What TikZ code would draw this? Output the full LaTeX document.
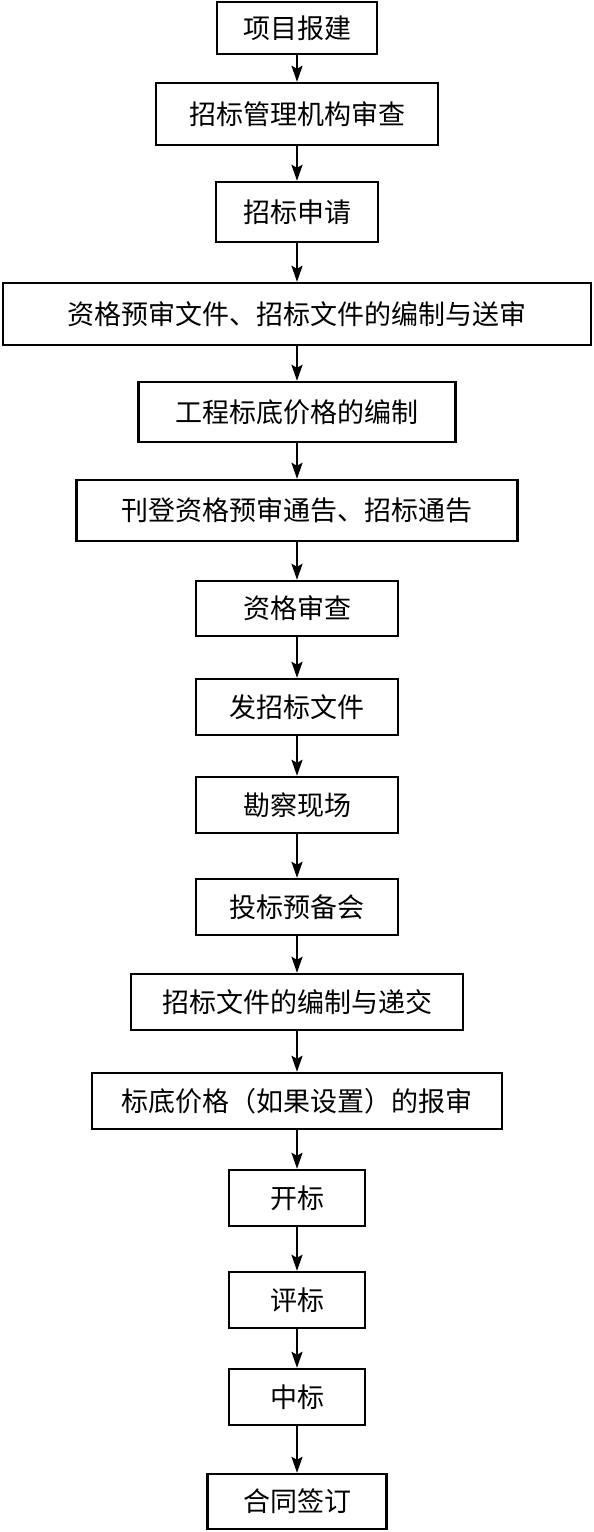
\documentclass[tikz,border=0pt]{standalone}
\usepackage{fontspec}
\setmainfont{Noto Sans CJK SC}
\usetikzlibrary{arrows.meta}

\begin{document}
\begin{tikzpicture}[x=1pt, y=-1pt,
  stepbox/.style = {draw, line width=2.4pt, inner sep=0pt, font=\fontsize{27}{31}\selectfont},
  flow/.style = {line width=2.4pt, -{Stealth[length=16pt,width=11pt,inset=3pt]}}
]
  \useasboundingbox (0,0) rectangle (594,1532);

  % process steps, top to bottom
  \foreach \i/\y/\w/\h/\txt in {
    1/28/160/52/项目报建,
    2/114/282/62/招标管理机构审查,
    3/212/162/60/招标申请,
    4/314/588/62/资格预审文件、招标文件的编制与送审,
    5/412/317/60/工程标底价格的编制,
    6/510.5/441/61/刊登资格预审通告、招标通告,
    7/608.5/202/55/资格审查,
    8/707/202/56/发招标文件,
    9/805/202/56/勘察现场,
    10/907/202/56/投标预备会,
    11/1002/332/56/招标文件的编制与递交,
    12/1101/410/56/标底价格（如果设置）的报审,
    13/1198/136/56/开标,
    14/1300/136/56/评标,
    15/1397/136/56/中标,
    16/1501.5/179/55/合同签订
  }{
    \node[stepbox, minimum width=\w pt, minimum height=\h pt] (s\i) at (297,\y) {\txt};
  }

  % connectors
  \foreach \i [evaluate=\i as \j using int(\i+1)] in {1,...,15}
    \draw[flow] (s\i) -- (s\j);
\end{tikzpicture}
\end{document}
